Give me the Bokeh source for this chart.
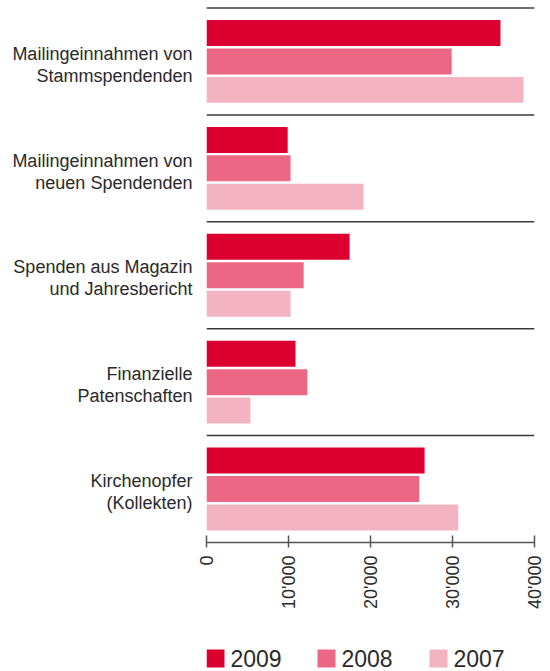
import math
from bokeh.plotting import figure
from bokeh.layouts import column
from bokeh.models import (Range1d, FixedTicker, Span, ColumnDataSource)
from bokeh.core.properties import value
from bokeh.embed import file_html
from bokeh.resources import INLINE

categories = [
    "Mailingeinnahmen von\nStammspendenden",
    "Mailingeinnahmen von\nneuen Spendenden",
    "Spenden aus Magazin\nund Jahresbericht",
    "Finanzielle\nPatenschaften",
    "Kirchenopfer\n(Kollekten)",
]
series_names = ["2009", "2008", "2007"]
values_2009 = [35850, 9900, 17450, 10850, 26600]
values_2008 = [29900, 10250, 11850, 12300, 25950]
values_2007 = [38650, 19150, 10250, 5350, 30700]
tick_values = [0, 10000, 20000, 30000, 40000]
tick_labels = ["0", "10'000", "20'000", "30'000", "40'000"]

colors = ["#DC0030", "#EB6783", "#F4B3C1"]
offsets = [0.266, 0.0, -0.266]
bar_h = 0.243
FONT = "Liberation Sans"
TXT = "#2a2a2a"

n = len(categories)
centers = [n - i - 0.5 for i in range(n)]

FRAME_L, FRAME_R = 206, 534

p = figure(width=550, height=630, output_backend="svg", toolbar_location=None,
           x_range=Range1d(0, 40000), y_range=Range1d(0, n + 0.07),
           min_border_left=FRAME_L, min_border_right=550 - FRAME_R, min_border_top=0,
           min_border_bottom=88)
p.outline_line_color = None
p.xgrid.visible = False
p.ygrid.visible = False
p.background_fill_color = "white"
p.border_fill_color = "white"

series = [values_2009, values_2008, values_2007]
for vals, col, off in zip(series, colors, offsets):
    src = ColumnDataSource(dict(y=[c + off for c in centers], right=vals))
    p.hbar(y="y", right="right", left=0, height=bar_h, source=src,
           fill_color=col, line_color=None)

for i in range(n):
    p.add_layout(Span(location=n - i, dimension="width", line_color="#3a3a3a",
                      line_width=1.5))

# x axis
xa = p.xaxis[0]
xa.ticker = FixedTicker(ticks=tick_values)
xa.major_label_overrides = {v: l for v, l in zip(tick_values, tick_labels)}
xa.major_label_orientation = math.pi / 2
xa.major_label_text_font = FONT
xa.major_label_text_font_size = "18px"
xa.major_label_text_color = TXT
xa.axis_line_color = "#555555"
xa.axis_line_width = 1.5
xa.major_tick_line_color = "#555555"
xa.major_tick_line_width = 1.5
xa.major_tick_in = 7
xa.major_tick_out = 5
xa.minor_tick_line_color = None
xa.major_label_standoff = 8

# y axis (category labels)
label_pos = [c - 0.03 for c in centers]
ya = p.yaxis[0]
ya.ticker = FixedTicker(ticks=label_pos)
ya.major_label_overrides = {c: lab for c, lab in zip(label_pos, categories)}
ya.major_label_text_font = FONT
ya.major_label_text_font_size = "18px"
ya.major_label_text_line_height = 1.1
ya.major_label_text_color = TXT
ya.axis_line_color = None
ya.major_tick_line_color = None
ya.minor_tick_line_color = None
ya.major_label_standoff = 8

# legend strip below the chart (pixel coordinates; frame aligned with chart frame)
pl = figure(width=550, height=41, output_backend="svg", toolbar_location=None,
            x_range=Range1d(FRAME_L, FRAME_R), y_range=Range1d(0, 41),
            x_axis_type=None, y_axis_type=None,
            min_border_left=FRAME_L, min_border_right=550 - FRAME_R, min_border_top=0,
            min_border_bottom=0)
pl.outline_line_color = None
pl.xgrid.visible = False
pl.ygrid.visible = False
pl.background_fill_color = "white"
pl.border_fill_color = "white"

legend_left = [206, 317, 429]
box = 18
leg_src = ColumnDataSource(dict(
    x=[l + box / 2 for l in legend_left],
    tx=[l + box + 6 for l in legend_left],
    y=[13] * 3,
    color=colors,
    label=series_names,
))
pl.rect(x="x", y="y", width=box, height=box, fill_color="color", line_color=None,
        source=leg_src)
pl.text(x="tx", y="y", text="label", source=leg_src, text_font=value(FONT),
        text_font_size="23px", text_color=TXT, text_baseline="middle",
        text_align="left")

layout = column(p, pl, spacing=0)
open("out.html", "w").write(file_html(layout, INLINE))
